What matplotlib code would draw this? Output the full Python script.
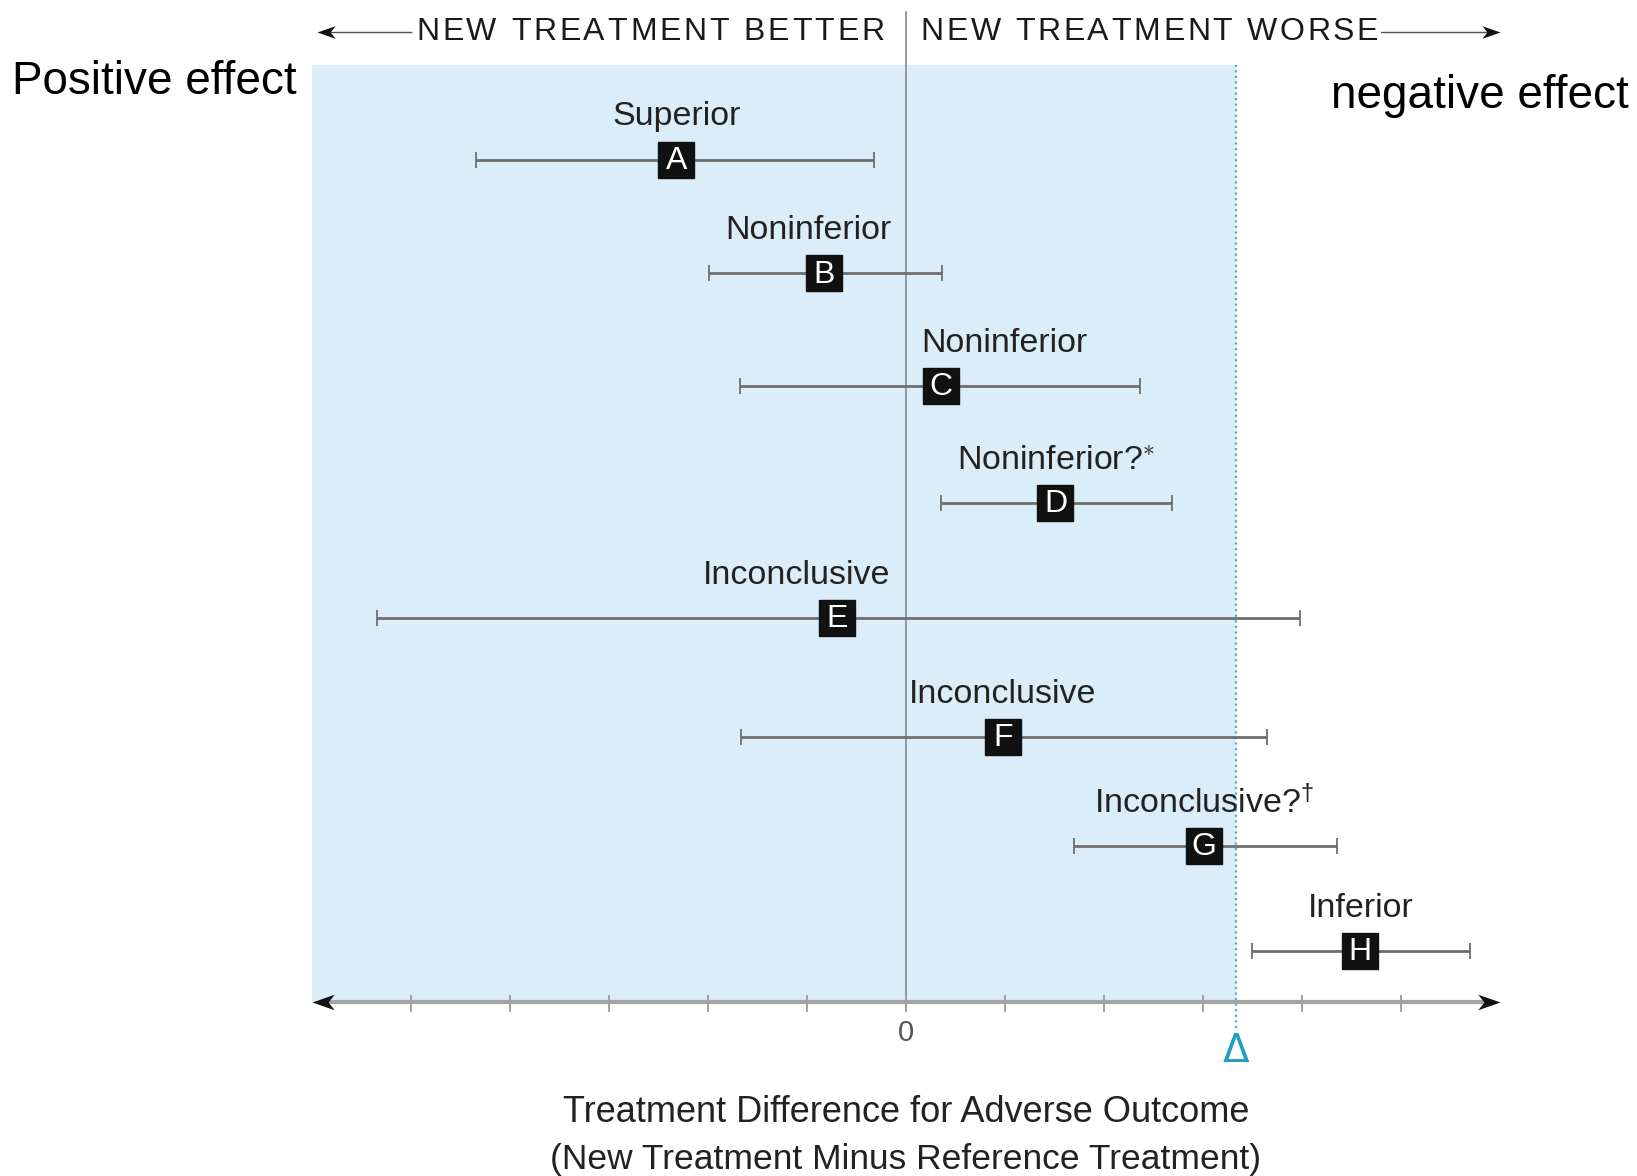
import matplotlib
matplotlib.use("Agg")
import matplotlib.pyplot as plt
from matplotlib.path import Path
from matplotlib.patches import Rectangle
from matplotlib.font_manager import FontProperties
from matplotlib.transforms import IdentityTransform

plt.rcParams["font.family"] = ["Liberation Sans", "DejaVu Sans"]
plt.rcParams["mathtext.fontset"] = "custom"
plt.rcParams["mathtext.rm"] = "Liberation Sans"
plt.rcParams["mathtext.it"] = "Liberation Sans"

# ---- data -------------------------------------------------------------
trials = ["A", "B", "C", "D", "E", "F", "G", "H"]
verdicts = ["Superior", "Noninferior", "Noninferior", "Noninferior?",
            "Inconclusive", "Inconclusive", "Inconclusive?", "Inferior"]
footnotes = ["", "", "", "*", "", "", "\u2020", ""]
estimate = [-2.32, -0.83, 0.35, 1.51, -0.70, 0.98, 3.01, 4.59]
ci_lower = [-4.34, -1.99, -1.68, 0.35, -5.34, -1.67, 1.70, 3.50]
ci_upper = [-0.32, 0.36, 2.36, 2.69, 3.98, 3.65, 4.35, 5.70]
margin_delta = 3.33
tick_values = [-5, -4, -3, -2, -1, 0, 1, 2, 3, 4, 5]

# ---- layout -----------------------------------------------------------
# vertical slot of each trial (top to bottom) and caption shifts
row_y = [8.015, 7.006, 6.006, 4.970, 3.952, 2.897, 1.934, 1.0]
label_shift = [0.0, -0.16, 0.64, 0.0, -0.40, 0.0, 0.0, 0.0]

DPI = 100
fig = plt.figure(figsize=(16.37, 11.76), dpi=DPI)
ax = fig.add_axes([0, 0, 1, 1])
ax.set_xlim(-9.152, 7.384)
ax.set_ylim(-0.995, 9.43)
ax.axis("off")

axis_y = 0.548
x_min, x_max = -6.0, 6.0
shade_top = 8.85

# shaded "acceptable" region
ax.add_patch(Rectangle((x_min, axis_y), margin_delta - x_min, shade_top - axis_y,
                       facecolor="#dcedfa", edgecolor="none", zorder=0))

# vertical zero line
ax.plot([0, 0], [axis_y - 0.08, 9.32], color="#888888", lw=1.2, zorder=1)

# margin line
ax.plot([margin_delta, margin_delta], [0.32, shade_top], color="#4ab2d0",
        lw=1.6, ls=(0, (1, 1.5)), zorder=1)

# stealth-shaped arrow heads with the tip at the marker's anchor point
head = Path([(0.0, 0.0), (-2.0, 0.7), (-1.45, 0.0), (-2.0, -0.7), (0.0, 0.0)],
            [Path.MOVETO, Path.LINETO, Path.LINETO, Path.LINETO, Path.CLOSEPOLY])
head_left = Path([(-x, y) for x, y in head.vertices], head.codes)

# bottom axis
ax.plot([x_min + 0.1, x_max - 0.1], [axis_y, axis_y], color="#a3a3a3", lw=3, zorder=2,
        solid_capstyle="butt")
ax.plot([x_min], [axis_y], marker=head_left, ms=32, color="#111111", mew=0, zorder=3)
ax.plot([x_max], [axis_y], marker=head, ms=32, color="#111111", mew=0, zorder=3)
for t in tick_values:
    ax.plot([t, t], [axis_y - 0.08, axis_y + 0.05], color="#a0a0a0", lw=1.4, zorder=2)
ax.text(0, 0.27, "0", ha="center", va="center", fontsize=21, color="#555555")
ax.text(margin_delta, 0.11, "\u0394", ha="center", va="center", fontsize=28,
        color="#1fa0c2", fontfamily="DejaVu Sans")

# axis title
ax.text(0, -0.43, "Treatment Difference for Adverse Outcome", ha="center", va="center",
        fontsize=26, color="#222222")
ax.text(0, -0.85, "(New Treatment Minus Reference Treatment)", ha="center", va="center",
        fontsize=25.5, color="#222222")

# header with letter-spaced text and arrows
header_y = 9.15
fig.canvas.draw()
renderer = fig.canvas.get_renderer()
fp = FontProperties(family="Liberation Sans", size=23)


def spaced_text(s, x0, x1, y):
    p0 = ax.transData.transform((x0, y))
    p1 = ax.transData.transform((x1, y))
    widths = [renderer.get_text_width_height_descent(c, fp, ismath=False)[0] for c in s]
    gap = (p1[0] - p0[0] - sum(widths)) / (len(s) - 1)
    x = p0[0]
    for c, w in zip(s, widths):
        fig.text(x, p0[1], c, fontproperties=fp, ha="left", va="center",
                 color="#1a1a1a", transform=IdentityTransform())
        x += w + gap


spaced_text("NEW TREATMENT BETTER", -4.95, -0.22, header_y)
spaced_text("NEW TREATMENT WORSE", 0.15, 4.77, header_y)
ax.plot([-5.85, -5.0], [header_y, header_y], color="#555555", lw=1.0)
ax.plot([4.80, 5.9], [header_y, header_y], color="#555555", lw=1.0)
ax.plot([-5.95], [header_y], marker=head_left, ms=26, color="#111111", mew=0)
ax.plot([6.0], [header_y], marker=head, ms=26, color="#111111", mew=0)

# confidence intervals
xerr = [[e - lo for e, lo in zip(estimate, ci_lower)],
        [hi - e for e, hi in zip(estimate, ci_upper)]]
ax.errorbar(estimate, row_y, xerr=xerr, fmt="none", ecolor="#6e6e6e", elinewidth=2,
            capsize=6, capthick=1.3, zorder=4)
ax.plot(estimate, row_y, ls="none", marker="s", ms=26.5, color="#111111", zorder=5)
for x, y, letter in zip(estimate, row_y, trials):
    ax.text(x, y - 0.01, letter, ha="center", va="center", fontsize=23,
            color="white", zorder=6)

for x, y, v, note, dx in zip(estimate, row_y, verdicts, footnotes, label_shift):
    label = v + (r"$^{%s}$" % ("\\ast" if note == "*" else "\\dagger") if note else "")
    ax.text(x + dx, y + 0.38, label, ha="center", va="center", fontsize=24.5,
            color="#222222", zorder=6)

# side captions
ax.text(-9.03, 8.70, "Positive effect", ha="left", va="center", fontsize=33, color="black")
ax.text(7.30, 8.575, "negative effect", ha="right", va="center", fontsize=33, color="black")

fig.savefig("out.png", dpi=DPI)
